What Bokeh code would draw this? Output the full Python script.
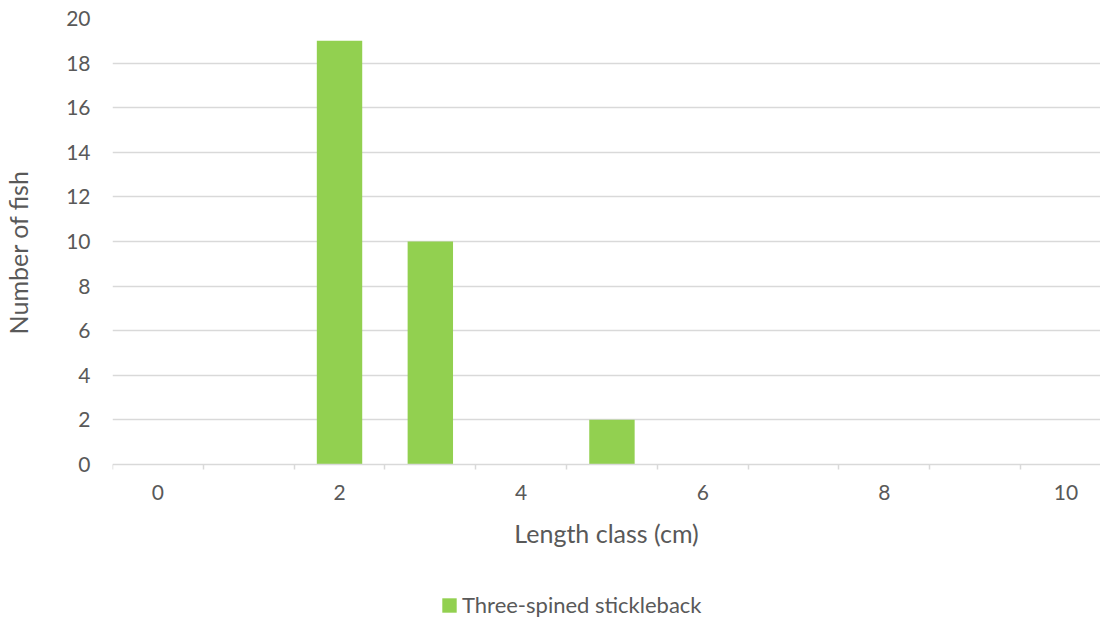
from bokeh.plotting import figure
from bokeh.models import FixedTicker, Range1d, Legend, LegendItem, ColumnDataSource
from bokeh.embed import file_html
from bokeh.resources import INLINE

length_class = [0, 1, 2, 3, 4, 5, 6, 7, 8, 9, 10]
fish_count = [0, 0, 19, 10, 0, 2, 0, 0, 0, 0, 0]
x_tick_labels = [0, 2, 4, 6, 8, 10]
y_ticks = [0, 2, 4, 6, 8, 10, 12, 14, 16, 18, 20]
series_name = "Three-spined stickleback"
x_title = "Length class (cm)"
y_title = "Number of fish"

FONT = "Lato"
TXT = "#595959"
GRID = "#D9D9D9"
GREEN = "#92D050"

p = figure(width=1100, height=620, output_backend="svg", toolbar_location=None,
           x_range=Range1d(-0.5, 10.38), y_range=Range1d(-7.0, 20),
           min_border_left=110, min_border_right=0, min_border_top=18, min_border_bottom=0)
p.outline_line_color = None
p.background_fill_color = "white"
p.border_fill_color = "white"

src = ColumnDataSource(dict(x=length_class, top=fish_count))
r = p.vbar(x="x", top="top", width=0.5, source=src, fill_color=GREEN, line_color=None)

# x axis (drawn at y = 0 inside the frame)
xa = p.xaxis[0]
xa.fixed_location = 0
xa.ticker = FixedTicker(ticks=x_tick_labels, minor_ticks=[c - 0.5 for c in length_class] + [10.5])
xa.axis_line_color = GRID
xa.axis_line_width = 1.5
xa.major_tick_line_color = None
xa.major_tick_out = 4
xa.major_tick_in = 0
xa.minor_tick_line_color = GRID
xa.minor_tick_line_width = 1.5
xa.minor_tick_out = 5
xa.minor_tick_in = 0
xa.major_label_standoff = 16
xa.major_label_text_font = FONT
xa.major_label_text_font_size = "21px"
xa.major_label_text_color = TXT
xa.axis_label = x_title
xa.axis_label_text_font = FONT
xa.axis_label_text_font_size = "25px"
xa.axis_label_text_font_style = "normal"
xa.axis_label_text_color = TXT
xa.axis_label_standoff = 14

# y axis
ya = p.yaxis[0]
ya.bounds = (0, 20)
ya.ticker = FixedTicker(ticks=y_ticks)
ya.axis_line_color = None
ya.major_tick_line_color = None
ya.minor_tick_line_color = None
ya.major_tick_out = 0
ya.major_tick_in = 0
ya.major_label_standoff = 22
ya.major_label_text_font = FONT
ya.major_label_text_font_size = "21px"
ya.major_label_text_color = TXT
# leading non-breaking spaces lift the rotated title to the centre of the 0-20 span
ya.axis_label = "\u00a0" * 21 + y_title
ya.axis_label_text_font = FONT
ya.axis_label_text_font_size = "25px"
ya.axis_label_text_font_style = "normal"
ya.axis_label_text_color = TXT
ya.axis_label_standoff = 30

p.xgrid.grid_line_color = None
p.ygrid.ticker = FixedTicker(ticks=y_ticks[1:])
p.ygrid.grid_line_color = GRID
p.ygrid.grid_line_width = 1.5

legend = Legend(items=[LegendItem(label=series_name, renderers=[r])],
                location=(328, 2), orientation="horizontal",
                label_text_font=FONT, label_text_font_size="22px", label_text_color=TXT,
                glyph_width=18, glyph_height=18, label_standoff=4,
                border_line_color=None, background_fill_alpha=0,
                padding=0, margin=0)
p.add_layout(legend, "center")

open("out.html", "w").write(file_html(p, INLINE))
